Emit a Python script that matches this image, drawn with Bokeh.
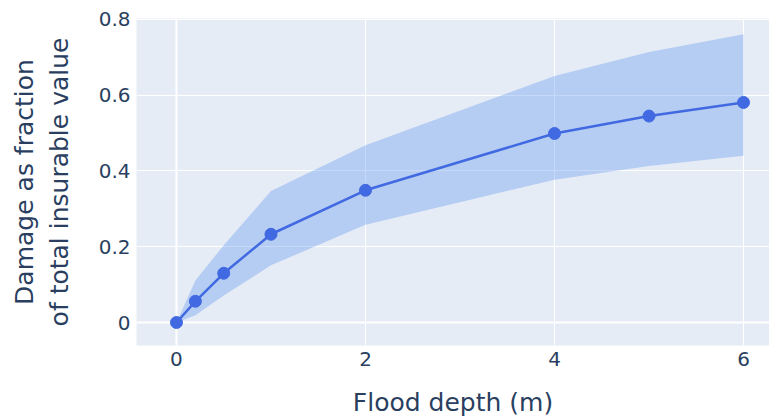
from bokeh.plotting import figure
from bokeh.models import ColumnDataSource, Range1d, FixedTicker, Span
from bokeh.embed import file_html
from bokeh.resources import INLINE

depth = [0, 0.2, 0.5, 1, 2, 4, 5, 6]
damage_mean = [0.0, 0.056, 0.13, 0.233, 0.349, 0.499, 0.545, 0.581]
damage_upper = [0.0, 0.111, 0.204, 0.347, 0.468, 0.651, 0.714, 0.761]
damage_lower = [0.0, 0.019, 0.071, 0.151, 0.258, 0.377, 0.413, 0.440]
x_ticks = [0, 2, 4, 6]
y_ticks = [0, 0.2, 0.4, 0.6, 0.8]
y_tick_labels = {0: "0", 0.2: "0.2", 0.4: "0.4", 0.6: "0.6", 0.8: "0.8"}

src = ColumnDataSource(dict(x=depth, y=damage_mean, lo=damage_lower, hi=damage_upper))

FONT = "DejaVu Sans"
TXT = "#2a3f5f"

p = figure(width=769, height=419, output_backend="svg", toolbar_location=None,
           x_range=Range1d(-0.423, 6.275), y_range=Range1d(-0.0607, 0.8026),
           min_border_left=136, min_border_right=0, min_border_top=18, min_border_bottom=74)
p.background_fill_color = "#E5ECF6"
p.border_fill_color = "white"
p.outline_line_color = None

p.xgrid.grid_line_color = "white"
p.ygrid.grid_line_color = "white"
p.xgrid.grid_line_width = 1
p.ygrid.grid_line_width = 1
p.xaxis.ticker = FixedTicker(ticks=x_ticks)
p.yaxis.ticker = FixedTicker(ticks=y_ticks)
p.yaxis.major_label_overrides = y_tick_labels

p.add_layout(Span(location=0, dimension="width", line_color="white", line_width=2, level="underlay"), "center")
p.add_layout(Span(location=0, dimension="height", line_color="white", line_width=2, level="underlay"), "center")

p.varea(x="x", y1="lo", y2="hi", source=src, fill_color="#6495ED", fill_alpha=0.36)
p.line(x="x", y="y", source=src, line_color="#4169E1", line_width=2.5)
p.scatter(x="x", y="y", source=src, size=12, fill_color="#4169E1", line_color="#4169E1")

for ax in (p.xaxis, p.yaxis):
    ax.axis_line_color = None
    ax.major_tick_line_color = None
    ax.minor_tick_line_color = None
    ax.major_tick_out = 0
    ax.major_tick_in = 0
    ax.major_label_text_font = FONT
    ax.major_label_text_font_size = "20px"
    ax.major_label_text_color = TXT
    ax.axis_label_text_font = FONT
    ax.axis_label_text_font_size = "25px"
    ax.axis_label_text_color = TXT
    ax.axis_label_text_font_style = "normal"

p.xaxis.axis_label = "Flood depth (m)"
p.yaxis.axis_label = "Damage as fraction\nof total insurable value"
p.xaxis.major_label_standoff = 6
p.yaxis.major_label_standoff = 6
p.xaxis.axis_label_standoff = 19
p.yaxis.axis_label_standoff = 22

open("out.html", "w").write(file_html(p, INLINE))
